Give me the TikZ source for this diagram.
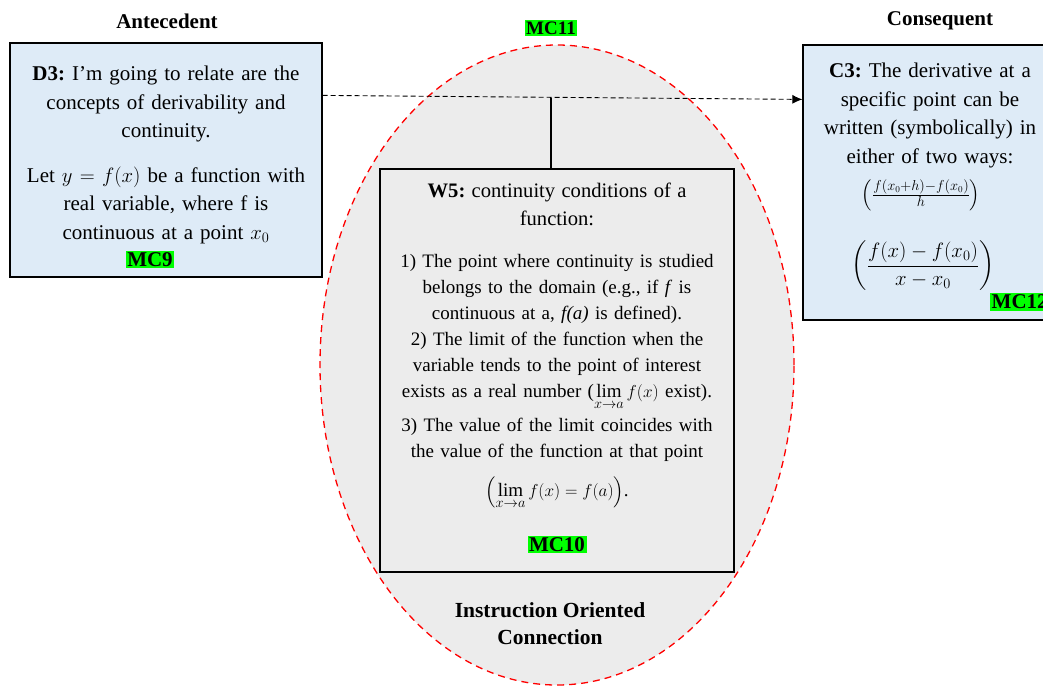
\documentclass[tikz,border=0pt]{standalone}
\usepackage{fontspec}
\setmainfont{Liberation Serif}
\usepackage{amsmath}
\usetikzlibrary{shapes.geometric,arrows.meta}
\definecolor{boxblue}{RGB}{222,235,247}
\definecolor{ellgray}{RGB}{236,236,236}
\definecolor{mcgreen}{RGB}{0,255,0}
\newcommand{\mclab}[1]{{\setlength{\fboxsep}{1.5pt}\colorbox{mcgreen}{\textbf{#1}}}}
\tikzset{
  bluebox/.style={draw=black, fill=boxblue, line width=1.2pt, inner sep=0pt},
  graybox/.style={draw=black, fill=ellgray, line width=1.2pt, inner sep=0pt},
  mclabel/.style={fill=mcgreen, inner sep=1.5pt, font=\fontsize{21}{24}\selectfont\bfseries},
  heading/.style={font=\fontsize{21}{27}\selectfont\bfseries, align=center},
  bodytext/.style={font=\fontsize{21}{28.5}\selectfont, align=center, inner sep=0pt}
}
\begin{document}
\frenchspacing
\begin{tikzpicture}[x=1pt,y=-1pt]
\useasboundingbox (0,0) rectangle (1043,686);
% ellipse
\node[ellipse, draw=red, dash pattern=on 7pt off 5pt, fill=ellgray, line width=1.3pt,
      minimum width=474pt, minimum height=640pt, inner sep=0pt] (E) at (557,365) {};
% headings
\node[heading] (ant) at (167,21) {Antecedent};
\node[heading] (con) at (940,21) {Consequent};
\node[mclabel, font=\fontsize{19}{22}\selectfont\bfseries] (mc11) at (551,28) {MC11};
% left box
\node[bluebox, minimum width=312pt, minimum height=234pt] (L) at (166,160) {};
\node[bodytext, text width=300pt, anchor=north] (Lt) at (166,66)
{\textbf{D3:} I’m going to relate are the\\ concepts of derivability and\\ continuity.\\[16pt]
Let $y=f(x)$ be a function with\\ real variable, where f is\\ continuous at a point $x_0$\\[-1pt]
\hspace*{-32pt}\mclab{MC9}};
% right box
\node[bluebox, minimum width=274pt, minimum height=275pt] (R) at (940,182.5) {};
\node[bodytext, text width=250pt, anchor=north] (Rt) at (930,63)
{\textbf{C3:} The derivative at a\\ specific point can be\\ written (symbolically) in\\ either of two ways:};
\node[inner sep=0pt, font=\fontsize{19}{22}\selectfont] (f1) at (921,195)
{$\left(\frac{f(x_0+h)-f(x_0)}{h}\right)$};
\node[inner sep=0pt, font=\fontsize{20.5}{24}\selectfont] (f2) at (923,266)
{$\left(\dfrac{f(x)-f(x_0)}{x-x_0}\right)$};
\node[mclabel, anchor=west] (mc12) at (990,302) {MC12};
% W5 box
\node[graybox, minimum width=354pt, minimum height=403pt] (W) at (557,370.5) {};
\node[bodytext, text width=345pt, anchor=north, font=\fontsize{19}{26}\selectfont] (Wt) at (557,183)
{{\fontsize{20.6}{28}\selectfont\textbf{W5:} continuity conditions of a\\ function:\par}\vspace{16pt}
1) The point where continuity is studied\\
belongs to the domain (e.g., if \textit{f} is\\
continuous at a, \textit{f(a)} is defined).\\
2) The limit of the function when the\\
variable tends to the point of interest\\
exists as a real number ($\lim\limits_{x\to a} f(x)$ exist).\\[8pt]
3) The value of the limit coincides with\\
the value of the function at that point\\[13pt]
$\left(\lim\limits_{x\to a} f(x) = f(a)\right)$.\par\vspace{26pt}
{\fontsize{21}{24}\selectfont\mclab{MC10}}};
% bottom label
\node[heading, font=\fontsize{21.5}{27}\selectfont\bfseries] (ioc) at (550,624) {Instruction Oriented\\ Connection};
% connectors
\coordinate (a0) at ([yshift=-53pt]L.north east);
\coordinate (a1) at ([yshift=-55pt]R.north west);
\draw[black, line width=0.9pt, dash pattern=on 5pt off 3pt, -{Latex[length=10pt,width=9pt]}] (a0) -- (a1);
\coordinate (j) at (551,98);
\draw[black, line width=1.2pt] (j) -- (j |- W.north);
\end{tikzpicture}
\end{document}
